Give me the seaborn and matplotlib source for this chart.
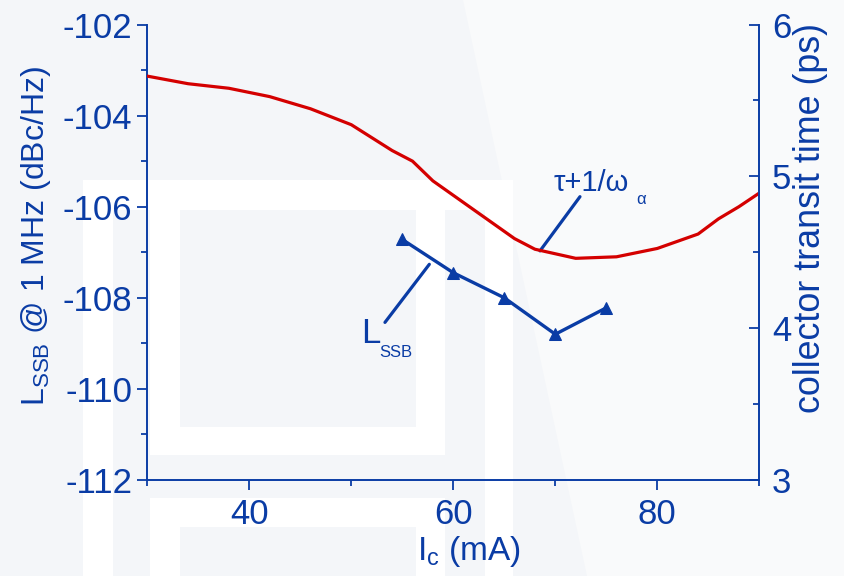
import matplotlib
matplotlib.use('Agg')
import matplotlib.pyplot as plt
from matplotlib.patches import Rectangle, Polygon
from matplotlib.ticker import MultipleLocator
import seaborn as sns

# collector transit time tau + 1/omega_alpha (ps), right axis
ic_tau = [30, 34, 38, 42, 46, 50, 54, 56, 58, 62, 66, 68, 72, 76, 80, 84, 86, 88, 90]
tau_ps = [5.66, 5.61, 5.58, 5.525, 5.445, 5.34, 5.17, 5.10, 4.97, 4.78, 4.59, 4.52,
          4.46, 4.47, 4.525, 4.62, 4.72, 4.80, 4.89]

# SSB phase noise at 1 MHz offset (dBc/Hz), left axis
ic_lssb = [55, 60, 65, 70, 75]
lssb_db = [-106.72, -107.45, -108.0, -108.8, -108.22]

x_ticks = [40, 60, 80]
left_ticks = [-112, -110, -108, -106, -104, -102]
right_ticks = [3, 4, 5, 6]

BLUE = '#0a3ca5'
RED = '#d40000'
BG = '#f4f6f9'
W, H = 845, 576

sns.set_theme(style='ticks')
plt.rcParams['font.family'] = ['Liberation Sans', 'DejaVu Sans']
plt.rcParams['mathtext.fontset'] = 'custom'
plt.rcParams['mathtext.rm'] = 'Liberation Sans'
plt.rcParams['axes.unicode_minus'] = False

fig = plt.figure(figsize=(W / 100, H / 100), dpi=100)
fig.patch.set_facecolor(BG)


def px_rect(x0, y0, x1, y1, color, z):
    # box in pixels with origin at top left
    r = Rectangle((x0 / W, 1 - y1 / H), (x1 - x0) / W, (y1 - y0) / H,
                  transform=fig.transFigure, fc=color, ec='none', zorder=z)
    fig.add_artist(r)


# faint logo of the slide background
fig.add_artist(Polygon([(463 / W, 1), (587 / W, 0), (1, 0), (1, 1)], closed=True,
                       transform=fig.transFigure, fc='#f9fafb', ec='none', zorder=-10))
px_rect(83, 180, 513, 576, 'white', -9)
for box in [(113, 210, 150, 576), (180, 210, 416, 427), (445, 210, 485, 576),
            (113, 455, 485, 498), (180, 527, 416, 576)]:
    px_rect(*box, BG, -8)

ax = fig.add_axes([147.3 / W, 96 / H, 612 / W, 455.5 / H])
ax.set_facecolor('none')
ax2 = ax.twinx()
ax2.set_facecolor('none')

sns.lineplot(x=ic_lssb, y=lssb_db, ax=ax, color=BLUE, lw=2.4, marker='^',
             markersize=9, markeredgecolor=BLUE, markerfacecolor=BLUE)
sns.lineplot(x=ic_tau, y=tau_ps, ax=ax2, color=RED, lw=2.3)

ax.set_xlim(30, 90)
ax.set_ylim(-112, -102)
ax2.set_ylim(3, 6)
ax.set_xticks(x_ticks)
ax.set_yticks(left_ticks)
ax2.set_yticks(right_ticks)
ax.xaxis.set_minor_locator(MultipleLocator(10))
ax.yaxis.set_minor_locator(MultipleLocator(1))
ax2.yaxis.set_minor_locator(MultipleLocator(0.5))
ax.set_xlabel('')
ax.set_ylabel('')
ax2.set_ylabel('')

for a in (ax, ax2):
    a.spines['top'].set_visible(False)
    for s in a.spines.values():
        s.set_color(BLUE)
        s.set_linewidth(1.4)
ax.spines['right'].set_visible(False)
ax2.spines['left'].set_visible(False)
ax2.spines['bottom'].set_visible(False)

ax.tick_params(axis='both', which='major', direction='out', length=7, width=1.3,
               colors=BLUE, labelsize=25)
ax.tick_params(axis='both', which='minor', direction='out', length=4, width=1.3,
               colors=BLUE)
ax.tick_params(axis='y', which='major', pad=4)
ax.tick_params(axis='x', which='major', pad=6)
ax2.tick_params(axis='y', which='major', direction='in', length=7, width=1.3,
                colors=BLUE, labelsize=25, pad=9)
ax2.tick_params(axis='y', which='minor', direction='in', length=4.5, width=1.3,
                colors=BLUE)

# axis titles
fig.text(36 / W, 1 - 236 / H, r'$\mathregular{L_{SSB}}$ @ 1 MHz (dBc/Hz)', rotation=90,
         ha='center', va='center', fontsize=23, color=BLUE)
fig.text(811 / W, 1 - 218 / H, 'collector transit time (ps)', rotation=90,
         ha='center', va='center', fontsize=25.8, color=BLUE)
fig.text(417 / W, 1 - 560 / H, r'$\mathregular{I_c}$ (mA)', ha='left', va='baseline',
         fontsize=24, color=BLUE)

# curve labels with leader lines
lead = dict(arrowstyle='-', color=BLUE, lw=2.3, shrinkA=0, shrinkB=0)
ax.annotate('', xy=(68.5, -106.97), xytext=(72.42, -105.78), arrowprops=lead)
ax.annotate('', xy=(57.65, -107.265), xytext=(53.3, -108.54), arrowprops=lead)
ax.text(69.82, -105.65, 'τ+1/ω', fontsize=21, color=BLUE, va='baseline')
ax.text(77.9, -105.93, 'α', fontsize=12, color=BLUE, va='baseline')
ax.text(51.0, -109.0, 'L', fontsize=25, color=BLUE, va='baseline')
ax.text(52.7, -109.29, 'SSB', fontsize=12, color=BLUE, va='baseline')

fig.savefig('out.png', dpi=100, facecolor=fig.get_facecolor())
